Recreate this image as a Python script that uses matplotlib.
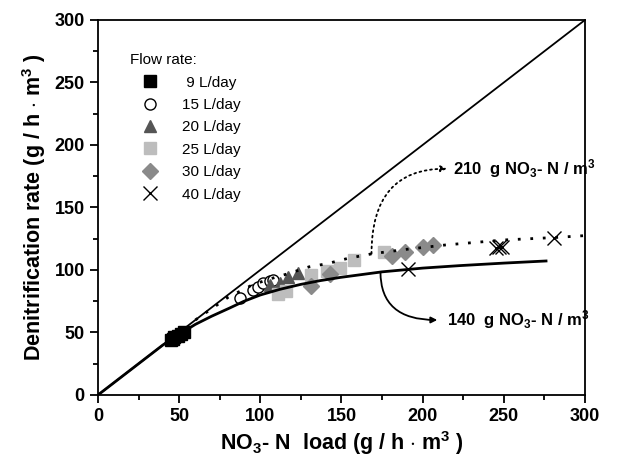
import matplotlib
matplotlib.use("Agg")
import matplotlib.pyplot as plt
from matplotlib.ticker import MultipleLocator

plt.rcParams['font.family'] = ['Liberation Sans', 'DejaVu Sans']
plt.rcParams['mathtext.fontset'] = 'custom'
plt.rcParams['mathtext.rm'] = 'Liberation Sans:bold'
plt.rcParams['mathtext.it'] = 'Liberation Sans:bold'
plt.rcParams['mathtext.bf'] = 'Liberation Sans:bold'

# ---- data ----
flow_labels = [" 9 L/day", "15 L/day", "20 L/day", "25 L/day", "30 L/day", "40 L/day"]

load_9 = [45, 46, 47, 49, 51, 53]
rate_9 = [44, 45, 46, 47, 49, 50]

load_15 = [87.5, 95.7, 98.8, 101.8, 106, 108]
rate_15 = [77.3, 84, 86.7, 89.3, 91.5, 92]

load_20 = [106, 112, 117, 123.4]
rate_20 = [88, 89.5, 94.5, 97.5]

load_25 = [111, 116, 131, 141, 149, 158, 176]
rate_25 = [81, 83, 96, 99, 101.5, 108, 114.7]

load_30 = [131, 143, 181, 189, 200.5, 206.6]
rate_30 = [87, 96.5, 111.5, 114.5, 118.5, 120]

load_40 = [191, 245, 247, 249, 281]
rate_40 = [100.5, 117.5, 118.5, 118, 125.5]

# model curve for 140 g NO3-N/m3 (solid)
model140_x = [0, 40, 50, 60, 70, 81, 90, 100, 112, 125, 137, 149, 175, 200, 223, 250, 276]
model140_y = [0, 40, 48.5, 56.5, 63, 69.5, 75, 80, 84.5, 88.5, 91.5, 94, 98.5, 101.5, 103.5, 105.5, 107.2]

# model curve for 210 g NO3-N/m3 (dotted)
model210_x = [60, 80, 95, 105, 117, 130, 141, 154, 169, 190, 214, 250, 282, 300]
model210_y = [60, 78, 88, 92.5, 97, 102.5, 105, 109.3, 113, 116.5, 120, 124, 126, 127.5]

identity = [0, 300]

label210 = r"210  g NO$_3$- N / m$^3$"
label140 = r"140  g NO$_3$- N / m$^3$"

fig = plt.figure(figsize=(6.26, 4.63), dpi=100)
ax = fig.add_axes([0.1565, 0.1469, 0.778, 0.81])

ms = 8
ax.plot(load_9, rate_9, ls='none', marker='s', ms=ms, mfc='black', mec='black', label=flow_labels[0], zorder=3)
ax.plot(load_15, rate_15, ls='none', marker='o', ms=ms, mfc='white', mec='black', mew=1.0, label=flow_labels[1], zorder=3)
ax.plot(load_20, rate_20, ls='none', marker='^', ms=ms + 1, mfc='#555555', mec='#555555', label=flow_labels[2], zorder=3)
ax.plot(load_25, rate_25, ls='none', marker='s', ms=ms, mfc='#bdbdbd', mec='#bdbdbd', label=flow_labels[3], zorder=3)
ax.plot(load_30, rate_30, ls='none', marker='D', ms=ms, mfc='#8a8a8a', mec='#8a8a8a', label=flow_labels[4], zorder=3)
ax.plot(load_40, rate_40, ls='none', marker='x', ms=ms + 2, mec='black', mew=1.0, label=flow_labels[5], zorder=3)

ax.plot(identity, identity, color='black', lw=1.3, zorder=4)
ax.plot(model140_x, model140_y, color='black', lw=2.0, zorder=4)
ax.plot(model210_x, model210_y, color='black', lw=2.0, ls=(0, (1, 3.5)), zorder=5)

ax.set_xlim(0, 300)
ax.set_ylim(0, 300)
ax.xaxis.set_major_locator(MultipleLocator(50))
ax.xaxis.set_minor_locator(MultipleLocator(25))
ax.yaxis.set_major_locator(MultipleLocator(50))
ax.yaxis.set_minor_locator(MultipleLocator(25))
ax.tick_params(which='major', direction='out', length=6, width=1.3, labelsize=13)
ax.tick_params(which='minor', direction='out', length=3.5, width=1.3)
for lab in ax.get_xticklabels() + ax.get_yticklabels():
    lab.set_fontweight('bold')
for sp in ax.spines.values():
    sp.set_linewidth(1.3)

ax.set_xlabel(r"NO$_3$- N  load (g / h $\cdot$ m$^3$ )", fontsize=15.5, fontweight='bold', labelpad=3)
ax.set_ylabel(r"Denitrification rate (g / h $\cdot$ m$^3$ )", fontsize=15.5, fontweight='bold', labelpad=5)

leg = ax.legend(title="Flow rate:", loc='upper left', bbox_to_anchor=(0.044, 0.94),
                frameon=False, fontsize=11, title_fontsize=11, handlelength=2.6,
                handletextpad=0.8, labelspacing=0.55, borderpad=0.2)
leg._legend_box.align = "left"

# annotations: arrows run from the curves to the labels
ax.text(219, 181, label210, fontsize=12, fontweight='bold', va='center', ha='left')
ax.annotate("", xy=(215, 181), xytext=(168.5, 113),
            arrowprops=dict(arrowstyle='-|>', color='black', lw=1.3, ls=(0, (1, 2)),
                            connectionstyle='angle3,angleA=90,angleB=0',
                            shrinkA=0, shrinkB=0, mutation_scale=9))
ax.text(215, 60, label140, fontsize=12, fontweight='bold', va='center', ha='left')
ax.annotate("", xy=(209, 60), xytext=(174, 98.5),
            arrowprops=dict(arrowstyle='-|>', color='black', lw=1.3,
                            connectionstyle='angle3,angleA=90,angleB=0',
                            shrinkA=0, shrinkB=0, mutation_scale=9))

fig.savefig("out.png", dpi=100)
